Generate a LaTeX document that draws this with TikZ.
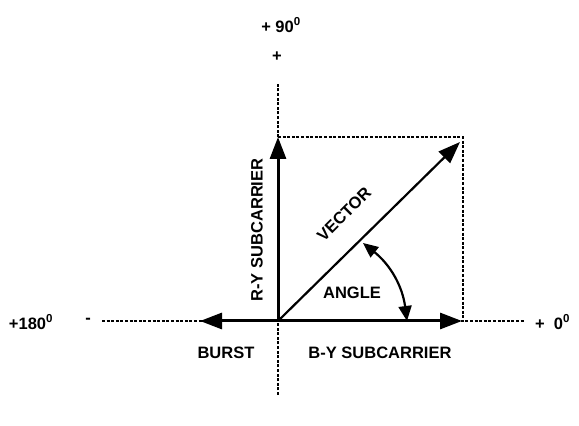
\documentclass[tikz,border=0pt]{standalone}
\usepackage{fontspec}
\setmainfont{Liberation Sans}
\usetikzlibrary{arrows.meta, positioning}

\begin{document}
\begin{tikzpicture}[
    x=1pt, y=1pt,
    axis/.style={line width=1.3pt, dash pattern=on 3pt off 1.6pt},
    phasor/.style={-{Triangle[length=22pt, width=16pt]}, line width=3pt},
    swing/.style={{Triangle[length=15pt, width=13pt]}-{Triangle[length=15pt, width=13pt]}, line width=2.2pt},
    lbl/.style={font=\fontsize{16.5}{19}\selectfont\bfseries, inner sep=0pt}
]
\useasboundingbox (0,0) rectangle (579,426);

% Ejes
\coordinate (O) at (278,105);
\coordinate (ytop) at (278,343);
\coordinate (ybot) at (278,31);
\coordinate (xleft) at (102,105);
\coordinate (xright) at (525,105);
\draw[axis] (ybot) -- (ytop);
\draw[axis] (xleft) -- (xright);

% Rotulos de los ejes
\node[lbl] (p90) at (281,401) {+ 90\textsuperscript{0}};
\node[lbl] (pp) at (277,369) {+};
\node[lbl] (p180) at (31,104) {+180\textsuperscript{0}};
\node[lbl] (mm) at (88,105) {-};
\node[lbl, anchor=west] (p0) at (535,104) {+\ \ 0\textsuperscript{0}};

% Caja punteada
\coordinate (ry) at (278,289);
\coordinate (by) at (462,105);
\coordinate (corner) at (463,289);
\draw[axis] (ry) -- (corner) -- (463,105);

% Fasores
\coordinate (burst) at (200,105);
\coordinate (vtip) at (460,284);
\draw[phasor] (O) -- (ry);
\draw[phasor] (O) -- (by);
\draw[phasor] (O) -- (burst);
\draw[-{Triangle[length=22pt, width=16pt]}, line width=2.2pt] (O) -- (vtip);

% Angulo
\coordinate (a1) at (363,183);
\coordinate (a2) at (407,105);
\draw[swing] (a1) to[bend left=22] (a2);

% Textos
\node[lbl] (tburst) at (226,73) {BURST};
\node[lbl] (tby) at (380,73) {B-Y SUBCARRIER};
\node[lbl, rotate=90] (try) at (257,196) {R-Y SUBCARRIER};
\node[lbl, rotate=45] (tvec) at (344,212) {VECTOR};
\node[lbl] (tang) at (352,133) {ANGLE};

\end{tikzpicture}
\end{document}
